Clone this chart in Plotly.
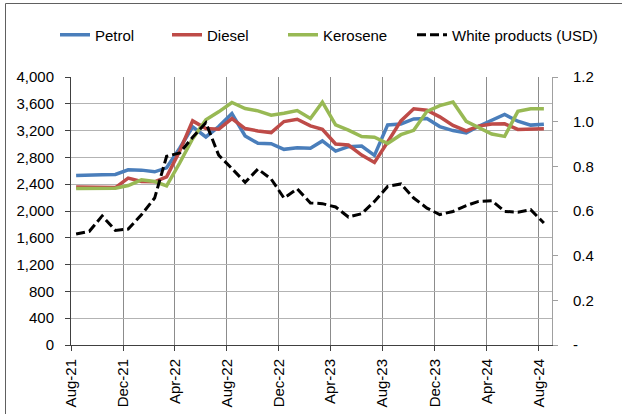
import pandas as pd
import plotly.graph_objects as go

# ---- data (monthly, Aug-21 .. Aug-24) ----
start_month = "2021-08-01"
n_months = 37
petrol = [2530, 2530, 2540, 2545, 2615, 2610, 2585, 2645, 2940, 3255, 3105, 3260,
          3455, 3120, 3010, 3005, 2920, 2945, 2935, 3045, 2895, 2960, 2970, 2830,
          3285, 3300, 3375, 3380, 3260, 3200, 3167, 3265, 3360, 3440, 3340, 3282, 3295]
diesel = [2360, 2360, 2355, 2350, 2490, 2440, 2435, 2510, 2900, 3345, 3230, 3220,
          3380, 3230, 3195, 3170, 3335, 3370, 3270, 3220, 3000, 2985, 2835, 2725,
          3030, 3345, 3525, 3505, 3405, 3277, 3197, 3267, 3300, 3302, 3217, 3217, 3227]
kerosene = [2335, 2335, 2335, 2340, 2380, 2465, 2440, 2375, 2720, 3080, 3360, 3480,
            3620, 3530, 3495, 3430, 3460, 3500, 3380, 3625, 3285, 3207, 3112, 3102,
            3007, 3139, 3204, 3487, 3572, 3626, 3338, 3253, 3149, 3114, 3487, 3527, 3527]
white_usd = [0.497, 0.509, 0.578, 0.513, 0.519, 0.583, 0.658, 0.845, 0.86, 0.93, 0.995, 0.85,
             0.79, 0.728, 0.788, 0.743, 0.658, 0.699, 0.636, 0.633, 0.618, 0.573, 0.588, 0.643,
             0.71, 0.721, 0.658, 0.613, 0.584, 0.598, 0.624, 0.643, 0.646, 0.598, 0.595, 0.606, 0.546]
left_ticks = list(range(0, 4001, 400))
right_tickvals = [0, 0.2, 0.4, 0.6, 0.8, 1.0, 1.2]
right_ticktext = ["-", "0.2", "0.4", "0.6", "0.8", "1.0", "1.2"]
series_names = ["Petrol", "Diesel", "Kerosene", "White products (USD)"]

dates = pd.date_range(start_month, periods=n_months, freq="MS") + pd.Timedelta(days=12)

FONT = "Liberation Sans, Arial, sans-serif"
W, H = 622, 414
ML, MR, MT, MB = 71, 70, 77, 69

fig = go.Figure()
colors = ["#4A7EBB", "#BE4B48", "#98B954"]
legend_ids = ["legend", "legend2", "legend3", "legend4"]
for name, vals, col, lg in zip(series_names[:3], [petrol, diesel, kerosene], colors, legend_ids):
    fig.add_trace(go.Scatter(x=dates, y=vals, name=name, mode="lines",
                             line=dict(color=col, width=3.5), legend=lg))
fig.add_trace(go.Scatter(x=dates, y=white_usd, name=series_names[3], mode="lines", yaxis="y2",
                         line=dict(color="black", width=3, dash="9px,4px"), legend=legend_ids[3]))

pw = W - ML - MR
ph = H - MT - MB
def px_x(p):
    return (p - ML) / pw
def px_y(p):
    return 1 - (p - MT) / ph

legend_px = [55, 167, 283, 412]
leg_common = dict(orientation="h", xref="container", yref="container",
                  xanchor="left", y=1 - 35 / H, yanchor="middle",
                  font=dict(size=15, family=FONT, color="black"),
                  bgcolor="rgba(0,0,0,0)", borderwidth=0)
legends = {lid: dict(leg_common, x=p / W) for lid, p in zip(legend_ids, legend_px)}

fig.update_layout(
    width=W, height=H,
    margin=dict(l=ML, r=MR, t=MT, b=MB, pad=0, autoexpand=False),
    paper_bgcolor="white", plot_bgcolor="white",
    font=dict(family=FONT, size=15, color="black"),
    showlegend=True,
    **legends,
    xaxis=dict(type="date", range=["2021-08-01", "2024-09-01"],
               tick0="2021-08-01", dtick="M4", tickformat="%b-%y", tickangle=-90,
               showgrid=True, gridcolor="#8c8c8c", gridwidth=1,
               showline=True, linecolor="#404040", linewidth=1,
               ticks="outside", ticklen=5, tickcolor="#404040",
               tickfont=dict(size=15), ticklabelstandoff=2, zeroline=False),
    yaxis=dict(range=[0, 4000], tickvals=left_ticks, tickformat=",",
               showgrid=True, gridcolor="#b3b3b3", gridwidth=1,
               showline=True, linecolor="#404040", linewidth=1,
               ticks="outside", ticklen=5, tickcolor="#404040",
               tickfont=dict(size=15), ticklabelstandoff=8, zeroline=False),
    yaxis2=dict(range=[0, 1.2], overlaying="y", side="right",
                tickvals=right_tickvals, ticktext=right_ticktext,
                showgrid=False, showline=True, linecolor="#a0a0a0", linewidth=1,
                ticks="outside", ticklen=5, tickcolor="#a0a0a0",
                tickfont=dict(size=15), ticklabelstandoff=12, zeroline=False),
    shapes=[dict(type="rect", xref="paper", yref="paper",
                 x0=px_x(5.5), x1=px_x(700), y0=px_y(500), y1=px_y(3.5),
                 line=dict(color="#606060", width=1), fillcolor="rgba(0,0,0,0)",
                 layer="above")],
)

fig.write_html("out.html", config={"displayModeBar": False},
               post_script="document.body.style.margin='0';")
